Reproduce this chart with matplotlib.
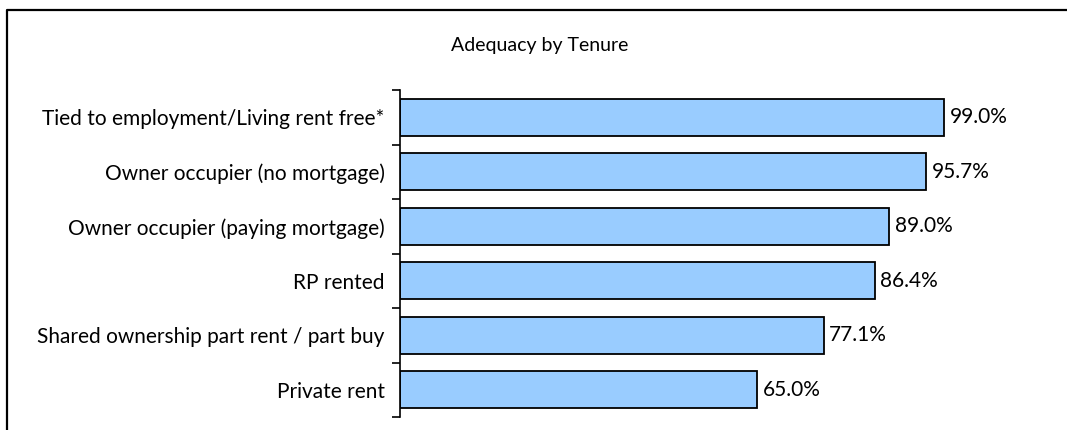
import matplotlib
matplotlib.use("Agg")
import matplotlib.pyplot as plt
from matplotlib.lines import Line2D
import numpy as np

# data, top to bottom as in the chart
categories = ["Tied to employment/Living rent free*",
              "Owner occupier (no mortgage)",
              "Owner occupier (paying mortgage)",
              "RP rented",
              "Shared ownership part rent / part buy",
              "Private rent"]
adequacy = [99.0, 95.7, 89.0, 86.4, 77.1, 65.0]
title = "Adequacy by Tenure"

plt.rcParams['font.family'] = ['Lato', 'DejaVu Sans']

fig = plt.figure(figsize=(10.67, 4.30), dpi=100)
ax = fig.add_axes([400/1067, 13/430, 632/1067, 327/430])

y = np.arange(len(categories))[::-1]
ax.barh(y, adequacy, height=0.68, color='#99CCFF', edgecolor='black', linewidth=1.3)
for yi, v in zip(y, adequacy):
    ax.text(v + 1.0, yi, '%.1f%%' % v, va='center', ha='left', fontsize=15, color='black')

ax.set_xlim(0, 115)
ax.set_ylim(-0.5, len(categories) - 0.5)
ax.set_yticks(y)
ax.set_yticklabels(categories, fontsize=15)
ax.set_yticks(np.arange(len(categories) + 1) - 0.5, minor=True)
ax.tick_params(axis='y', which='major', length=0, pad=11)
ax.tick_params(axis='y', which='minor', length=6, width=1.2, direction='out')
ax.set_xticks([])
for s in ['top', 'right', 'bottom']:
    ax.spines[s].set_visible(False)
ax.spines['left'].set_linewidth(1.2)

fig.text(540/1067, 1 - 45/430, title, ha='center', va='center', fontsize=14)

# outer chart frame: only top and left edges show, the rest is cut off
fx = 7/1067
fy = 1 - 10/430
fig.lines.append(Line2D([fx, fx, 1.01], [-0.01, fy, fy], transform=fig.transFigure,
                        color='black', linewidth=1.6))

fig.savefig('out.png', dpi=100)
